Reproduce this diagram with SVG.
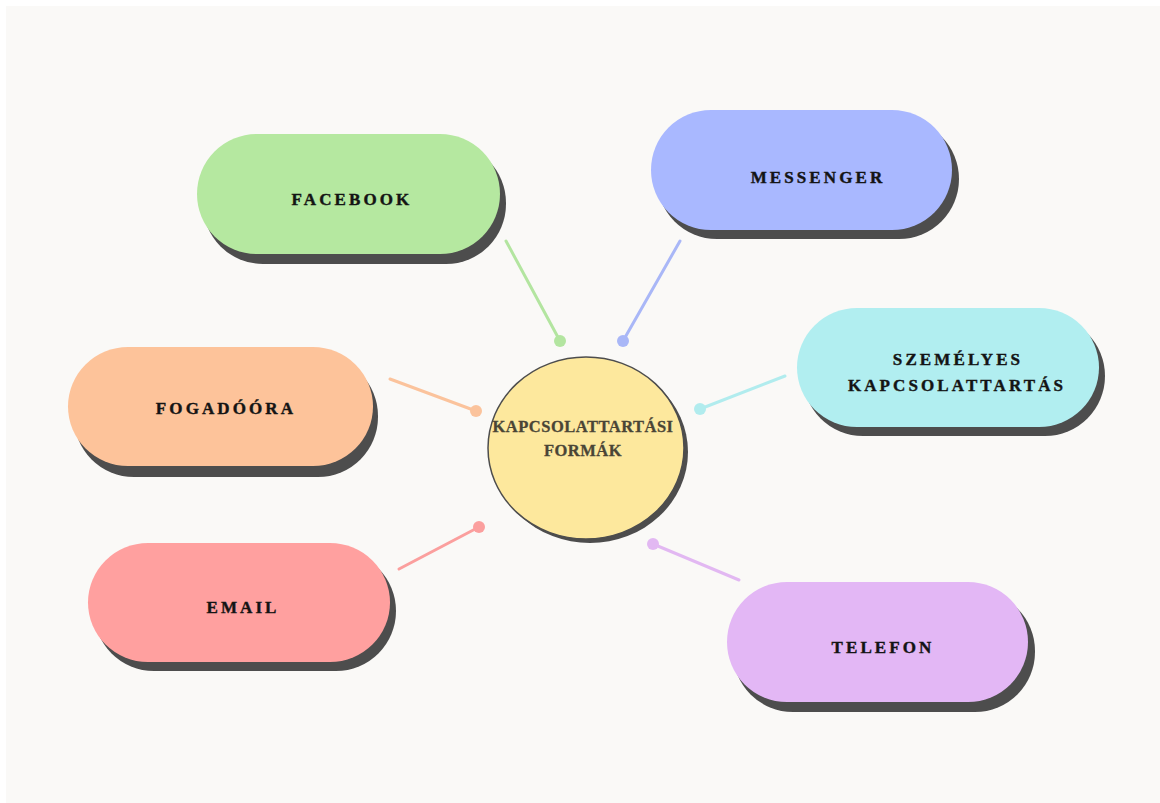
<svg xmlns="http://www.w3.org/2000/svg" width="1160" height="803" viewBox="0 0 1160 803">
<style>
.shadow{fill:#4d4d4d}
.lbl{font-family:"Liberation Serif","DejaVu Serif",serif;font-weight:bold;font-size:17px;letter-spacing:3.1px;fill:#141414;text-anchor:middle;stroke:#141414;stroke-width:0.4}
.ctr{font-family:"Liberation Serif","DejaVu Serif",serif;font-weight:bold;font-size:16.5px;letter-spacing:0.5px;fill:#4a4536;text-anchor:middle;stroke:#4a4536;stroke-width:0.3}
.conn line{stroke-width:3;stroke-linecap:round}
</style>
<rect width="1160" height="803" fill="#ffffff"/>
<rect x="6" y="6" width="1154" height="797" fill="#faf9f7"/>
<g class="conn" id="connectors">
<line x1="506" y1="241" x2="560" y2="341" stroke="#b3e5a0"/><circle cx="560" cy="341" r="6" fill="#b3e5a0"/>
<line x1="680" y1="241" x2="623" y2="341" stroke="#a9b7f7"/><circle cx="623" cy="341" r="6" fill="#a9b7f7"/>
<line x1="785" y1="376" x2="700" y2="409" stroke="#b1ecee"/><circle cx="700" cy="409" r="6" fill="#b1ecee"/>
<line x1="390" y1="379" x2="476" y2="411" stroke="#fbc39c"/><circle cx="476" cy="411" r="6" fill="#fbc39c"/>
<line x1="399" y1="569" x2="479" y2="527" stroke="#fb9f9e"/><circle cx="479" cy="527" r="6" fill="#fb9f9e"/>
<line x1="739" y1="580" x2="653" y2="544" stroke="#e2b8f2"/><circle cx="653" cy="544" r="6" fill="#e2b8f2"/>
</g>
<g id="center">
<ellipse class="shadow" cx="590" cy="452" rx="98" ry="91"/>
<ellipse cx="586" cy="448" rx="98" ry="91" fill="#fde89d" stroke="#4d4d4d" stroke-width="1.5"/>
<text class="ctr" x="583" y="432">KAPCSOLATTARTÁSI</text>
<text class="ctr" x="583" y="456">FORMÁK</text>
</g>
<g id="facebook">
<rect class="shadow" x="203" y="143" width="303" height="121" rx="60"/>
<rect x="197" y="134" width="303" height="120" rx="60" fill="#b5e8a0"/>
<text class="lbl" x="352" y="205">FACEBOOK</text>
</g>
<g id="messenger">
<rect class="shadow" x="657" y="119" width="302" height="120" rx="60"/>
<rect x="651" y="110" width="301" height="120" rx="60" fill="#a9b8ff"/>
<text class="lbl" x="818" y="183">MESSENGER</text>
</g>
<g id="szemelyes">
<rect class="shadow" x="803" y="316" width="302" height="120" rx="60"/>
<rect x="797" y="308" width="302" height="119" rx="60" fill="#b1eef0"/>
<text class="lbl" x="958" y="365">SZEMÉLYES</text>
<text class="lbl" x="957" y="391">KAPCSOLATTARTÁS</text>
</g>
<g id="fogadoora">
<rect class="shadow" x="74" y="356" width="304" height="121" rx="60"/>
<rect x="68" y="347" width="305" height="119" rx="60" fill="#fdc39a"/>
<text class="lbl" x="226" y="414">FOGADÓÓRA</text>
</g>
<g id="email">
<rect class="shadow" x="94" y="551" width="302" height="120" rx="60"/>
<rect x="88" y="543" width="302" height="119" rx="60" fill="#ffa09f"/>
<text class="lbl" x="243" y="613">EMAIL</text>
</g>
<g id="telefon">
<rect class="shadow" x="733" y="591" width="302" height="121" rx="60"/>
<rect x="727" y="582" width="301" height="120" rx="60" fill="#e3b7f5"/>
<text class="lbl" x="883" y="653">TELEFON</text>
</g>
</svg>
